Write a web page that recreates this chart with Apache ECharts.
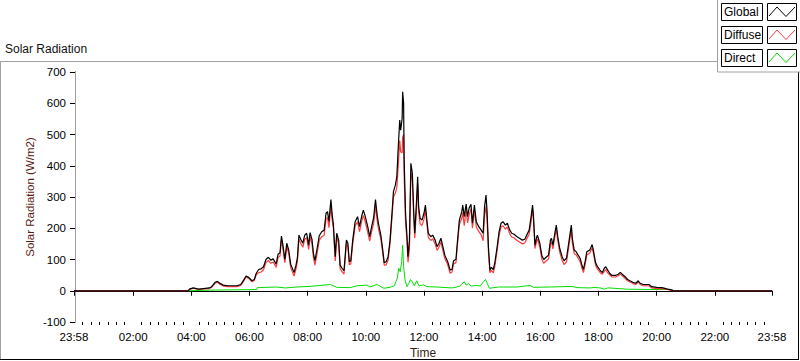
<!DOCTYPE html>
<html>
<head>
<meta charset="utf-8">
<script src="https://cdn.jsdelivr.net/npm/echarts@6/dist/echarts.min.js"></script>
<style>
html,body{margin:0;padding:0;background:#fff;}
#c{width:800px;height:361px;}
</style>
</head>
<body>
<div id="c"></div>
<script>
// ---- data (time in minutes since 00:00) ----
const xTickValues = [-2, 120, 240, 360, 480, 600, 720, 840, 960, 1080, 1200, 1320, 1438];
const xTickLabels = ['23:58','02:00','04:00','06:00','08:00','10:00','12:00','14:00','16:00','18:00','20:00','22:00','23:58'];

const times = [-2,234,236,244,255,265,277,282,289,294,299,306,315,324,334,342,348,353,359,365,370,374,379,384,389,394,399,404,409,415,419,423,426,429,433,437,441,445,450,452,456,459,462,466,470,474,478,482,485,489,492,495,499,504,509,514,518,521,524,528,531,533,537,540,544,547,551,555,560,563,566,569,573,578,583,587,592,595,599,604,608,612,616,620,623,626,631,635,638,642,646,650,654,657,661,664,667,670,672,675,676,678,679,682,685,687,690,693,696,699,701,704,707,709,712,716,720,723,726,729,734,738,743,747,751,755,759,763,769,774,778,781,786,789,793,798,800,803,807,810,813,817,820,824,828,833,838,842,845,848,850,853,856,859,863,866,871,875,879,883,888,892,897,901,906,912,917,923,928,932,937,941,944,946,949,952,954,959,963,967,972,977,981,983,986,990,993,996,1000,1005,1009,1014,1018,1021,1024,1026,1030,1034,1038,1042,1046,1049,1053,1056,1062,1067,1070,1074,1078,1084,1088,1092,1095,1099,1103,1108,1115,1121,1125,1129,1135,1140,1146,1151,1157,1162,1166,1172,1179,1184,1190,1200,1211,1221,1232,1235,1438];

const globalVals = [0,0,5,9,5,7,9,13,27,30,24,18,16,16,16,20,34,47,42,32,36,56,68,70,77,100,107,98,102,85,117,122,175,146,100,152,130,85,66,58,82,107,178,164,152,178,184,146,186,164,120,96,130,176,189,194,248,253,222,292,237,216,109,184,162,82,72,64,162,152,93,96,162,221,237,205,242,258,237,205,173,205,232,292,248,216,178,130,90,93,109,162,248,317,338,365,461,546,514,552,637,600,429,248,173,109,162,408,376,248,184,269,365,269,232,226,248,274,226,184,173,178,162,141,152,168,141,114,93,66,69,96,101,157,226,253,274,237,277,237,264,277,216,274,221,205,194,184,269,306,258,141,66,75,68,88,141,189,216,221,210,216,194,184,181,173,168,162,165,178,194,237,274,237,146,168,178,152,114,100,107,114,162,168,146,184,210,173,136,109,96,104,146,178,210,168,130,125,114,104,82,68,98,125,130,148,125,90,77,64,58,72,77,66,56,49,49,53,59,53,45,36,31,27,24,32,24,20,20,20,13,11,10,6,2,0,0];

const diffuseVals = [0,0,4,8,4,6,7,11,24,27,21,15,13,13,13,17,31,44,39,29,33,52,58,60,67,90,97,88,92,75,106,111,164,135,90,141,119,74,55,47,70,95,165,151,139,164,170,132,172,150,106,82,115,161,173,177,230,234,202,272,220,200,95,172,150,71,61,53,151,141,83,86,150,207,221,189,225,241,220,187,159,190,214,272,230,200,165,120,82,83,98,151,234,300,313,330,401,481,444,442,491,500,374,218,160,91,132,378,350,228,168,245,340,252,214,209,229,258,213,171,161,166,150,129,140,156,129,103,83,56,60,86,90,146,212,232,250,208,259,217,242,262,200,257,204,190,179,160,240,270,234,125,58,65,57,77,129,177,204,208,197,204,182,172,169,161,156,150,153,166,181,220,262,226,135,156,166,140,102,88,95,102,150,156,134,172,197,161,124,97,84,92,133,165,196,154,118,115,104,94,72,58,88,115,120,138,116,82,69,57,53,63,68,57,51,44,44,48,54,48,40,32,27,23,20,28,20,16,16,16,9,7,7,4,1,0,0];

const directTimes = [234,279,334,375,376,416,434,458,485,527,540,568,582,602,609,623,637,650,659,661,665,668,671,674,676,678,681,685,689,692,696,700,705,710,719,726,747,778,793,798,803,807,812,817,828,836,843,847,851,855,874,912,939,946,981,1025,1036,1063,1073,1087,1092,1099,1102,1140,1187,1228,1232];
const directVals  = [0,2,3,4,10,12,9,12,14,20,11,10,16,18,12,20,8,11,16,25,40,72,61,93,146,77,34,13,24,36,28,16,32,15,19,13,12,9,14,21,29,18,23,15,17,15,29,36,22,8,12,12,17,11,12,14,10,9,11,8,5,9,9,5,4,4,2,0];

// ---- chart ----
const FONT = 'Liberation Sans';
const pairs = (t, v) => t.map((x, i) => [x, v[i]]);

const minorTicks = [];
for (let i = 0; i < xTickValues.length - 1; i++) {
  const a = xTickValues[i], b = xTickValues[i + 1];
  for (let k = 1; k <= 6; k++) minorTicks.push(a + (b - a) * k / 7);
}

const chart = echarts.init(document.getElementById('c'), null, {renderer: 'svg'});

const legendItems = [
  {name: 'Global', color: '#000000'},
  {name: 'Diffuse', color: '#ff3b3b'},
  {name: 'Direct', color: '#00dd00'}
];
const graphics = [
  // outer frame
  {type: 'line', shape: {x1: 0.5, y1: 61.5, x2: 720, y2: 61.5}, style: {stroke: '#a0a0a0', lineWidth: 1}, silent: true},
  {type: 'line', shape: {x1: 0.5, y1: 61.5, x2: 0.5, y2: 359.5}, style: {stroke: '#a0a0a0', lineWidth: 1}, silent: true},
  {type: 'line', shape: {x1: 0, y1: 359.5, x2: 799, y2: 359.5}, style: {stroke: '#000', lineWidth: 1}, silent: true},
  {type: 'line', shape: {x1: 798.5, y1: 61.5, x2: 798.5, y2: 360}, style: {stroke: '#000', lineWidth: 1}, silent: true},
  // title
  {type: 'text', left: 5, top: 43, style: {text: 'Solar Radiation', font: '12px "' + FONT + '"', fill: '#111'}, silent: true},
  // legend panel
  {type: 'rect', shape: {x: 717.5, y: -1, width: 84, height: 73}, style: {fill: '#fff', stroke: '#a0a0a0', lineWidth: 1}, z: 10, silent: true}
];
legendItems.forEach((it, i) => {
  const dy = i * 23;
  graphics.push({type: 'rect', shape: {x: 721.5, y: 3.5 + dy, width: 41, height: 17}, style: {fill: '#fff', stroke: '#000', lineWidth: 1}, z: 11, silent: true});
  graphics.push({type: 'text', x: 724, y: 12 + dy, style: {text: it.name, font: '12px "' + FONT + '"', fill: '#000', textVerticalAlign: 'middle'}, z: 12, silent: true});
  graphics.push({type: 'rect', shape: {x: 767.5, y: 3.5 + dy, width: 29, height: 17}, style: {fill: '#fff', stroke: '#000', lineWidth: 1}, z: 11, silent: true});
  graphics.push({type: 'polyline', shape: {points: [[769, 16 + dy], [777, 7 + dy], [786, 16.5 + dy], [795, 7 + dy]]}, style: {stroke: it.color, lineWidth: 1, fill: null}, z: 12, silent: true});
});

const fmt = v => {
  const i = xTickValues.indexOf(Math.round(v));
  return i >= 0 ? xTickLabels[i] : '';
};

chart.setOption({
  animation: false,
  backgroundColor: '#fff',
  textStyle: {fontFamily: FONT},
  grid: {left: 74, right: 28, top: 72, bottom: 39, containLabel: false, outerBoundsMode: 'none'},
  xAxis: [
    {
      type: 'value', min: -2, max: 1438, position: 'bottom',
      axisLine: {show: true, lineStyle: {color: '#a0a0a0', width: 1}},
      axisTick: {show: true, customValues: xTickValues, length: 5, lineStyle: {color: '#000', width: 1}},
      axisLabel: {show: true, customValues: xTickValues, formatter: fmt, fontSize: 11.5, color: '#000', margin: 9, fontFamily: FONT},
      splitLine: {show: false},
      name: 'Time', nameLocation: 'middle', nameGap: 25, nameMoveOverlap: false,
      nameTextStyle: {fontSize: 12, color: '#3a1a10', fontFamily: FONT}
    },
    {
      type: 'value', min: -2, max: 1438, position: 'top',
      axisLine: {show: true, lineStyle: {color: '#000', width: 1}},
      axisTick: {show: false}, axisLabel: {show: false}, splitLine: {show: false}
    },
    {
      type: 'value', min: -2, max: 1438, position: 'bottom',
      axisLine: {show: false},
      axisTick: {show: true, customValues: minorTicks, length: 3, lineStyle: {color: '#000', width: 1}},
      axisLabel: {show: false}, splitLine: {show: false}
    }
  ],
  yAxis: [
    {
      type: 'value', min: -100, max: 700, interval: 100, position: 'left',
      axisLine: {show: true, lineStyle: {color: '#000', width: 1}},
      axisTick: {show: true, length: 5, lineStyle: {color: '#000', width: 1}},
      axisLabel: {fontSize: 11.5, color: '#000', margin: 8, fontFamily: FONT},
      splitLine: {show: false},
      name: 'Solar Radiation (W/m2)', nameLocation: 'middle', nameGap: 38, nameRotate: 90, nameMoveOverlap: false,
      nameTextStyle: {fontSize: 11.5, color: '#5a1a14', fontFamily: FONT}
    },
    {
      type: 'value', min: -100, max: 700, interval: 100, position: 'right',
      axisLine: {show: true, lineStyle: {color: '#a0a0a0', width: 1}},
      axisTick: {show: false}, axisLabel: {show: false}, splitLine: {show: false}
    }
  ],
  series: [
    {name: 'Direct', type: 'line', data: pairs(directTimes, directVals), showSymbol: false, symbol: 'none',
     lineStyle: {color: '#00dd00', width: 1}, itemStyle: {color: '#00dd00'}, z: 2},
    {name: 'Diffuse', type: 'line', data: pairs(times, diffuseVals), showSymbol: false, symbol: 'none',
     lineStyle: {color: '#ff3b3b', width: 1.2}, itemStyle: {color: '#ff3b3b'}, z: 3},
    {name: 'Global', type: 'line', data: pairs(times, globalVals), showSymbol: false, symbol: 'none',
     lineStyle: {color: '#000', width: 1.2}, itemStyle: {color: '#000'}, z: 4}
  ],
  graphic: graphics
});
</script>
</body>
</html>
